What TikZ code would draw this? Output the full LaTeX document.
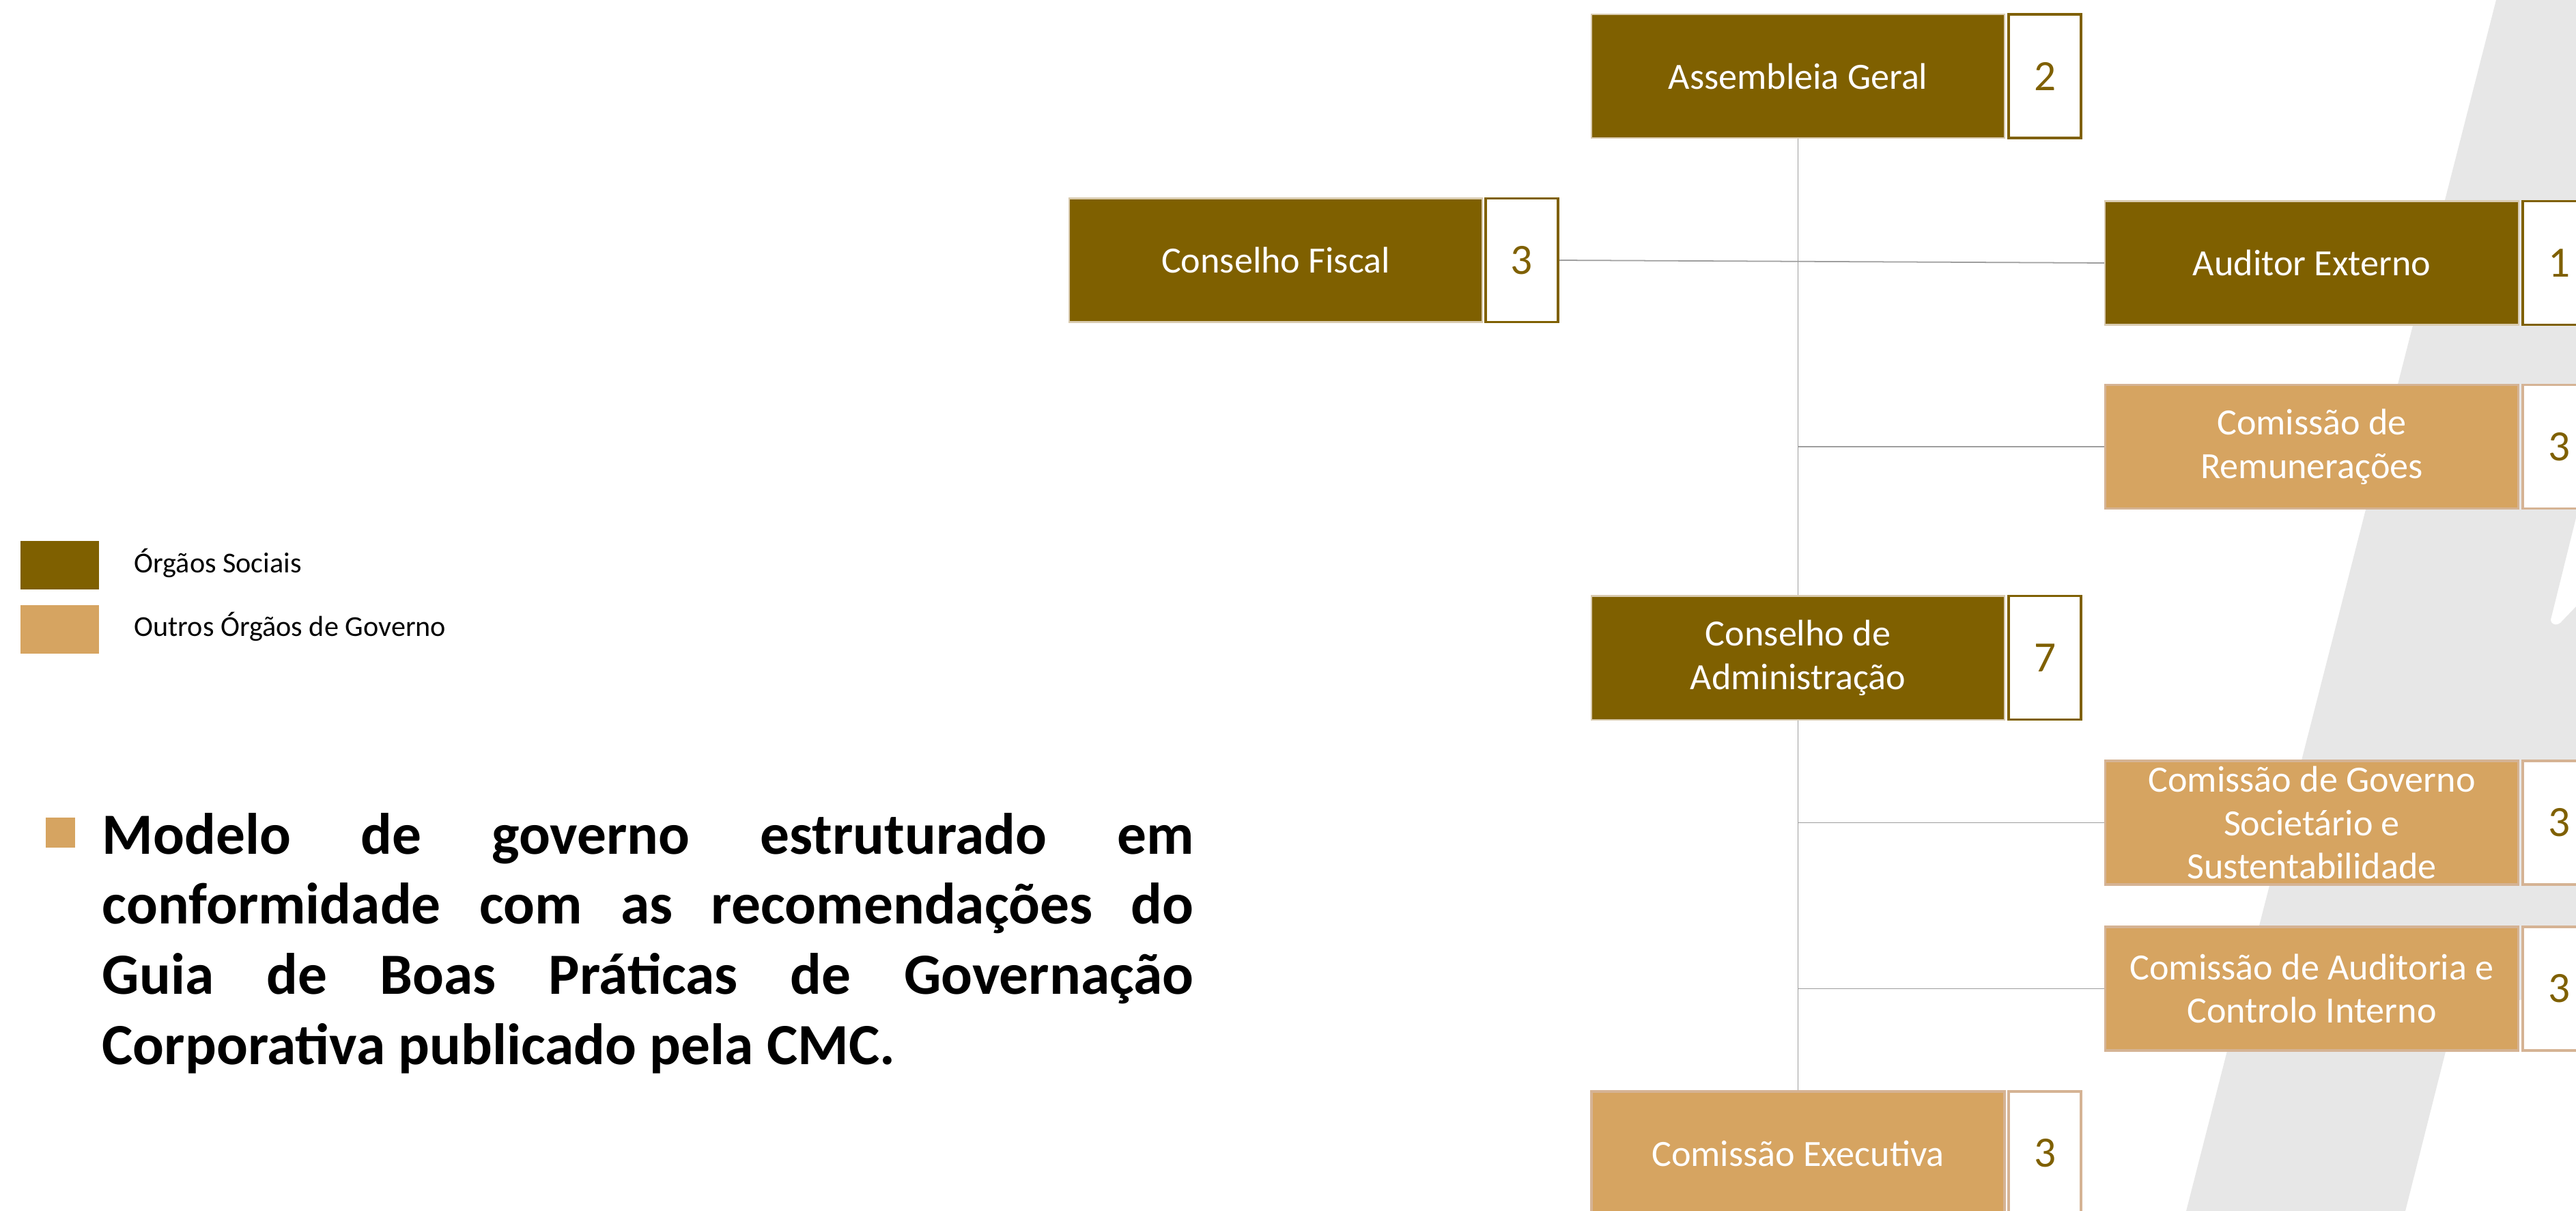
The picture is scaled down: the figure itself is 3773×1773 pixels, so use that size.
\documentclass[tikz,border=0pt]{standalone}
\usepackage{fontspec}
\setmainfont{Carlito}
\definecolor{dk}{HTML}{7F6000}
\definecolor{tanfill}{HTML}{D6A461}
\definecolor{tanb}{HTML}{D5B394}
\definecolor{bggray}{HTML}{E7E7E7}
\definecolor{ln}{HTML}{9E9E9E}
\definecolor{beige}{HTML}{D9CBB0}
\pgfdeclarelayer{bgzero}
\pgfdeclarelayer{bgone}
\pgfsetlayers{bgzero,bgone,main}
\tikzset{
  box/.style={minimum width=6.05cm, minimum height=1.81cm, inner sep=0pt, align=center, text=white, font=\fontsize{15.4}{18.1}\selectfont},
  dbox/.style={box, fill=dk, draw=beige, line width=0.6pt},
  lbox/.style={box, fill=tanfill, draw=tanb, line width=1pt},
  nbox/.style={minimum width=1.06cm, minimum height=1.81cm, inner sep=0pt, fill=white, text=dk, font=\fontsize{18}{20}\selectfont},
  dnum/.style={nbox, draw=dk, line width=1.1pt},
  lnum/.style={nbox, draw=tanb, line width=1pt},
  conn/.style={draw=ln, line width=0.5pt},
  legsq/.style={minimum width=1.15cm, minimum height=0.71cm, inner sep=0pt},
  legtxt/.style={anchor=base west, inner sep=0pt, font=\fontsize{12}{14}\selectfont}
}
\begin{document}
\begin{tikzpicture}[x=0.01cm, y=-0.01cm]
\useasboundingbox (0,0) rectangle (3773,1773);
\begin{pgfonlayer}{bgzero}
\fill[white] (0,0) rectangle (3773,1773);
\fill[bggray] (3656,0) -- (3773,0) -- (3773,758) -- (3737,903)
  .. controls (3733,912) and (3742,918) .. (3750,912) -- (3773,888)
  -- (3773,1450) -- (3597,1480) -- (3523,1773) -- (3202,1773) -- cycle;
\end{pgfonlayer}

% boxes
\node[dbox] (ag) at (2633.5,111.5) {Assembleia Geral};
\node[dnum] (agn) at (2995,111.5) {2};
\node[dbox] (cf) at (1868.5,381) {Conselho Fiscal};
\node[dnum] (cfn) at (2229,381) {3};
\node[dbox] (ae) at (3386,385) {Auditor Externo};
\node[dnum] (aen) at (3748,385) {1};
\node[lbox] (cr) at (3386,654) {Comissão de\\Remunerações};
\node[lnum] (crn) at (3748,654) {3};
\node[dbox] (ca) at (2633.5,963) {Conselho de\\Administração};
\node[dnum] (can) at (2995,963) {7};
\node[lbox] (cg) at (3386,1204.5) {Comissão de Governo\\Societário e\\Sustentabilidade};
\node[lnum] (cgn) at (3748,1204.5) {3};
\node[lbox] (cai) at (3386,1447.5) {Comissão de Auditoria e\\Controlo Interno};
\node[lnum] (cain) at (3748,1447.5) {3};
\node[lbox] (ce) at (2633.5,1688.5) {Comissão Executiva};
\node[lnum] (cen) at (2995,1688.5) {3};

% connectors
\begin{pgfonlayer}{bgone}
\draw[conn] (ag.south) -- (ce.north);
\draw[conn] (cfn.east) -- (ae.west);
\draw[conn] (cr.west) -- (cr.west -| ag.south);
\draw[conn] (cg.west) -- (cg.west -| ag.south);
\draw[conn] (cai.west) -- (cai.west -| ag.south);
\end{pgfonlayer}

% legend
\node[legsq, fill=dk] (lg1) at (87.5,827.5) {};
\node[legsq, fill=tanfill] (lg2) at (87.5,921.5) {};
\node[legtxt] (lt1) at (196,838) {Órgãos Sociais};
\node[legtxt] (lt2) at (196,931) {Outros Órgãos de Governo};

% bullet text
\node[fill=tanfill, minimum width=0.43cm, minimum height=0.44cm, inner sep=0pt] (bul) at (88.5,1219) {};
\node[anchor=base west, inner sep=0pt] (txt) at (149,1250) {\parbox[t]{15.98cm}{\fontsize{24.3}{29.2}\selectfont\bfseries Modelo de governo estruturado em\linebreak conformidade com as recomendações do\linebreak Guia de Boas Práticas de Governação\linebreak Corporativa publicado pela CMC.}};
\end{tikzpicture}
\end{document}
